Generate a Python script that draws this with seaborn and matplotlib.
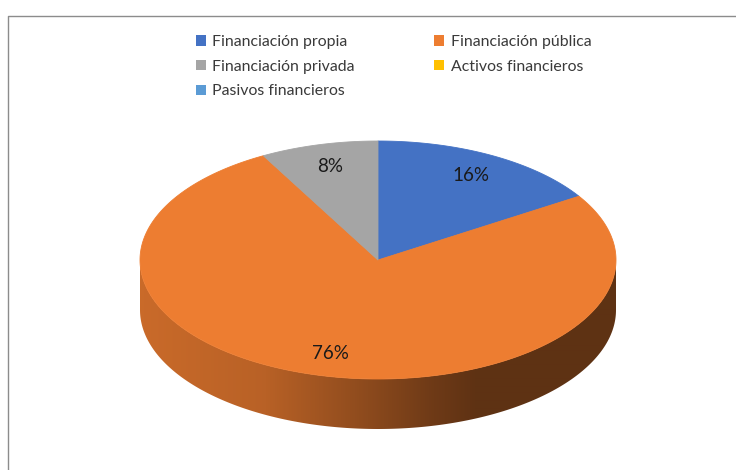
import numpy as np
import matplotlib
matplotlib.use("Agg")
import matplotlib.pyplot as plt
from matplotlib.patches import Polygon, Patch
import seaborn as sns

# Funding sources and their share of the total (%)
categorias = ["Financiación propia", "Financiación pública", "Financiación privada",
              "Activos financieros", "Pasivos financieros"]
porcentajes = [16, 76, 8, 0, 0]
colores = ["#4472C4", "#ED7D31", "#A5A5A5", "#FFC000", "#5B9BD5"]

sns.set_theme(style="white")
plt.rcParams["font.family"] = ["Lato", "DejaVu Sans"]

W, H = 736, 470
fig = plt.figure(figsize=(W / 100, H / 100), dpi=100)
ax = fig.add_axes([0, 0, 1, 1])
ax.set_xlim(0, W)
ax.set_ylim(H, 0)
ax.axis("off")

# chart-area frame (left and top edges visible)
ax.plot([7.5, 7.5, W + 5], [H + 5, 15.5, 15.5], color="#8C8C8C", lw=1.0, solid_capstyle="butt")

# 3D pie geometry: top ellipse centre, semi-axes and thickness
cx, cy, a, b, depth = 378, 260, 238, 119, 50


def rim(theta_deg, dy=0.0):
    """Point on the pie rim; angle measured clockwise from 12 o'clock."""
    t = np.radians(theta_deg)
    return cx + a * np.sin(t), cy - b * np.cos(t) + dy


fracs = np.array(porcentajes, dtype=float) / np.sum(porcentajes)
bounds = np.concatenate([[0.0], np.cumsum(fracs)]) * 360.0

# side walls (front half of the cylinder, 90..270 degrees), shaded left to right
shade_x = [140, 263, 363, 430, 475, 620]
shade_f = [0.85, 0.78, 0.60, 0.47, 0.40, 0.40]
for i, col in enumerate(colores):
    t0, t1 = bounds[i], bounds[i + 1]
    s0, s1 = max(t0, 90.0), min(t1, 270.0)
    if fracs[i] <= 0 or s1 <= s0:
        continue
    th = np.linspace(s0, s1, 200)
    top = np.array([rim(t) for t in th])
    bot = np.array([rim(t, depth) for t in th[::-1]])
    poly = Polygon(np.vstack([top, bot]), closed=True, facecolor="none", edgecolor="none")
    ax.add_patch(poly)
    xs = np.arange(int(top[:, 0].min()) - 2, int(top[:, 0].max()) + 3)
    f = np.interp(xs, shade_x, shade_f)
    base = np.array(matplotlib.colors.to_rgb(col))
    img = (f[:, None] * base[None, :])[None, :, :]
    im = ax.imshow(img, extent=(xs[0], xs[-1] + 1, cy + b + depth + 4, cy - 4),
                   aspect="auto", interpolation="bilinear", zorder=1)
    im.set_clip_path(poly)

# top faces of the slices
for i, col in enumerate(colores):
    if fracs[i] <= 0:
        continue
    th = np.linspace(bounds[i], bounds[i + 1], max(int(fracs[i] * 400), 3))
    pts = np.vstack([[cx, cy], np.array([rim(t) for t in th])])
    ax.add_patch(Polygon(pts, closed=True, facecolor=col, edgecolor=col, lw=0.6, zorder=2))

# percentage labels
for i in range(len(categorias)):
    if fracs[i] <= 0:
        continue
    mid = np.radians((bounds[i] + bounds[i + 1]) / 2)
    r = 0.81
    x = cx + r * a * np.sin(mid)
    y = cy - r * b * np.cos(mid)
    ax.text(x, y, f"{porcentajes[i]}%", ha="center", va="center",
            fontsize=13.5, color="#1a1a1a", zorder=3)

# legend laid out row by row in two columns
orden = [0, 2, 4, 1, 3]
handles = [Patch(facecolor=colores[k], edgecolor="none", label=categorias[k]) for k in orden]
ax.legend(handles=handles, ncol=2, loc="upper left", bbox_to_anchor=(196 / W, 1 - 35 / H),
          frameon=False, fontsize=11.4, handlelength=0.62, handleheight=0.62,
          handletextpad=0.42, columnspacing=5.0, labelspacing=0.67,
          borderpad=0, borderaxespad=0, labelcolor="#3a3a3a")

fig.savefig("out.png", dpi=100, facecolor="white")
